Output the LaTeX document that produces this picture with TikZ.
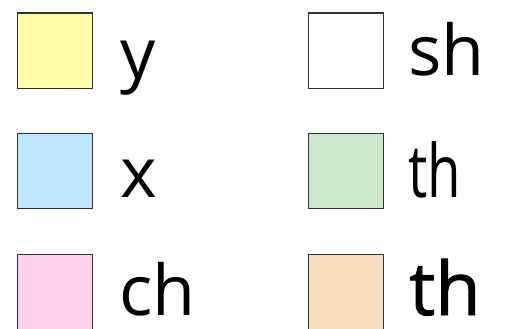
\documentclass[tikz,border=0pt]{standalone}
\usepackage{fontspec}
\setmainfont{Open Sans}
\definecolor{cyellow}{HTML}{FFFBA6}
\definecolor{cblue}{HTML}{BDE5FB}
\definecolor{cpink}{HTML}{FFD0EC}
\definecolor{cgreen}{HTML}{CCE8CF}
\definecolor{corange}{HTML}{FADCBF}
\definecolor{cstroke}{HTML}{333333}
\tikzset{
  keybox/.style={draw=cstroke, line width=1.2pt, minimum width=75pt, minimum height=75pt, inner sep=0pt, anchor=north west},
  keylabel/.style={anchor=base west, inner sep=0pt, text depth=0pt, font=\fontsize{70}{70}\selectfont}
}
\begin{document}
\begin{tikzpicture}[x=1pt,y=-1pt]
\useasboundingbox (0,0) rectangle (506,329);
\node[keybox, fill=cyellow] (b1) at (17,12.5) {};
\node[keybox, fill=cblue] (b2) at (17,133) {};
\node[keybox, fill=cpink] (b3) at (17,253.5) {};
\node[keybox, fill=white] (b4) at (307.5,12.5) {};
\node[keybox, fill=cgreen] (b5) at (307.5,133) {};
\node[keybox, fill=corange] (b6) at (307.5,253.5) {};
\node[keylabel] (t1) at (120,78) {y};
\node[keylabel] (t2) at (120,197) {x};
\node[keylabel] (t3) at (119,315) {ch};
\node[keylabel] (t4) at (408,76) {sh};
\node[keylabel] (t5) at (408,197) {\scalebox{0.78}[1.05]{th}};
\node[keylabel, font=\fontsize{74}{74}\selectfont\addfontfeature{FakeBold=1.2}] (t6) at (409,315) {th};
\end{tikzpicture}
\end{document}
